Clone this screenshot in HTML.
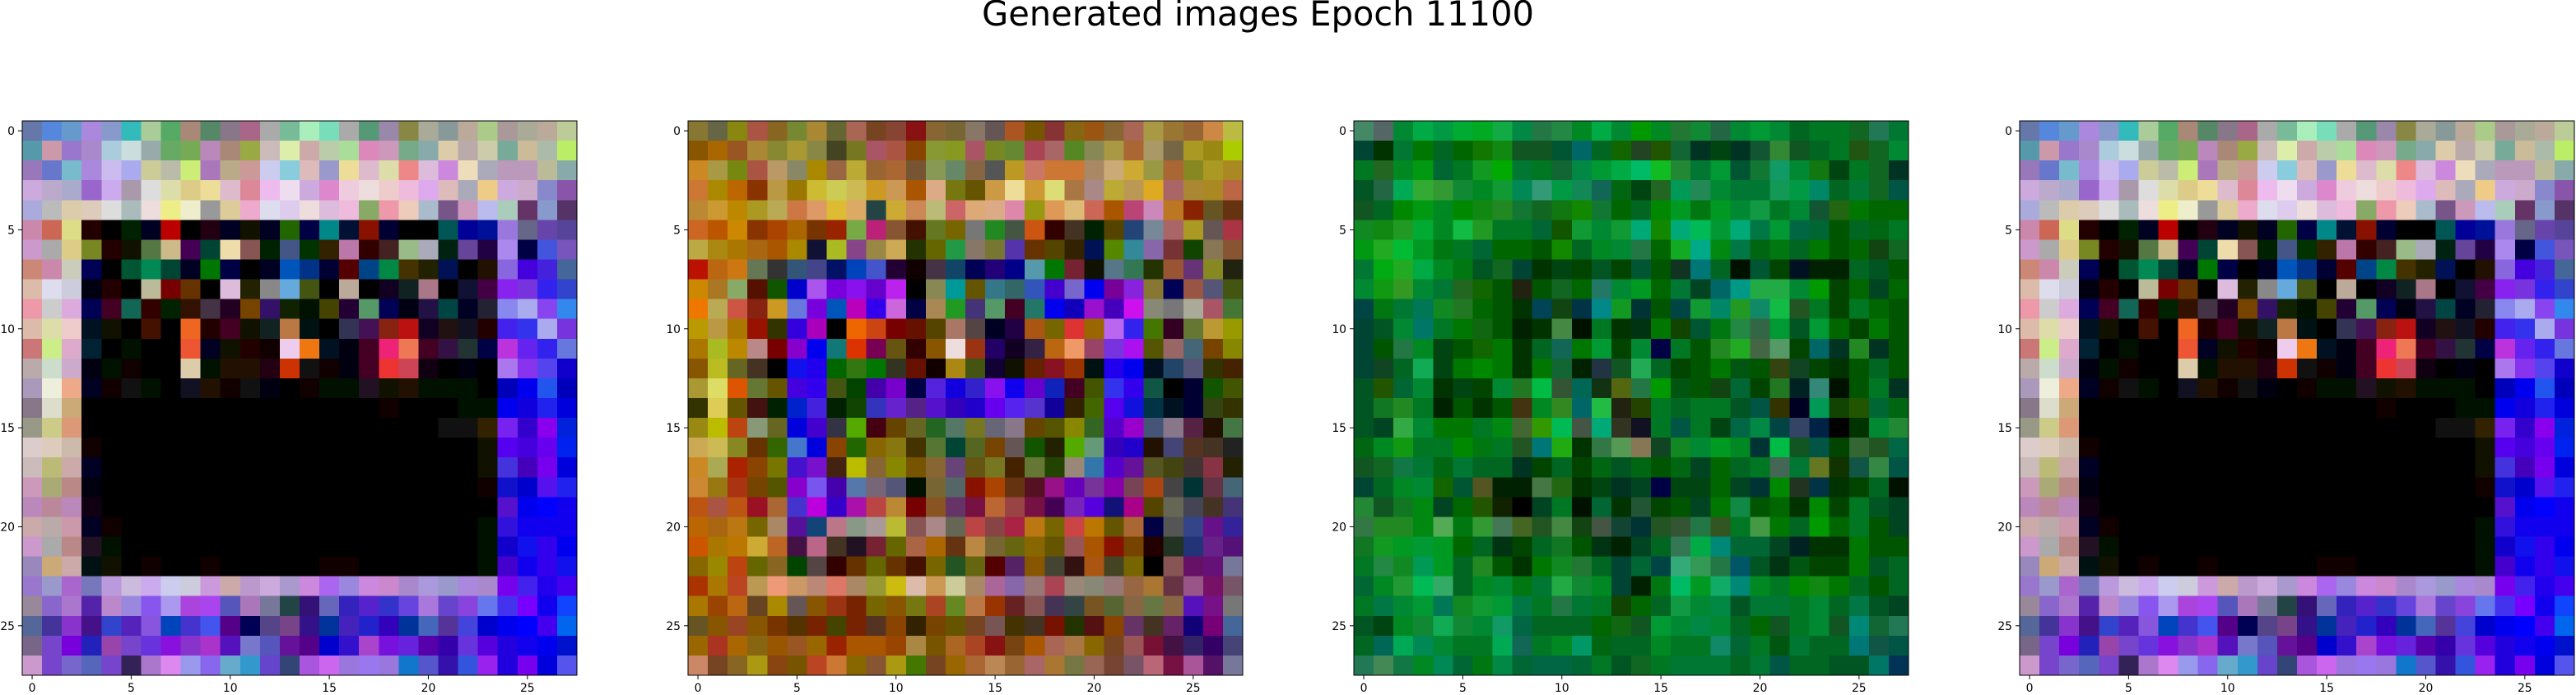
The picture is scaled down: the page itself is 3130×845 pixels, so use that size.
<!DOCTYPE html>
<html><head><meta charset="utf-8"><title>Generated images Epoch 11100</title>
<style>html,body{margin:0;padding:0;background:#fff;}svg{display:block;}</style></head>
<body>
<svg id="fig" xmlns="http://www.w3.org/2000/svg" width="3130" height="845" viewBox="0 0 3130 845">
<rect x="0" y="0" width="3130" height="845" fill="#fff"/>
<text x="1193" y="31" font-family="DejaVu Sans, Liberation Sans, sans-serif" font-size="41.7" textLength="671" lengthAdjust="spacingAndGlyphs" fill="#000">Generated images Epoch 11100</text>
</svg>
<script>
const img1 = [
"67a 58d 69c a8d 89c 3bb ac9 5a6 a87 586 878 a68 aaa 7b9 aeb 7db aaa 597 98a 884 aa9 899 ba9 ac8 a99 aa9 ba9 bc9",
"59a c9a 97c a8c acd cdd 9aa 6a6 7a5 b8b a87 9a4 cbb dea caa bca ad9 d8b c9b 7a8 8aa dca baa cca 7a9 cb9 aba be6",
"97b 67c 7bc a8d cbe aae cc9 bba ce7 a7b ba8 c99 cce 8cd dbb 99c ed9 dbc dda e88 dbd c8d edb aab b9b b9b bb9 8aa",
"cad bac aac 96c cae a9a ddd dda dc8 ed9 dbc d89 ebe ede cad d8c ecd edd ecc ebd dae dbb aab ec8 cad cac 88c 85a",
"aad bbb dca dcb ddd abb edd ee8 eec 999 dc9 eac dde dce edd dbd ebd 8a6 e9a ecb abc 758 c9b bbe acb 636 89c 536",
"c8a c65 dd8 200 000 020 002 b00 000 201 002 110 002 260 004 088 013 810 003 000 000 055 009 019 97d 668 64a 549",
"c9c aaa dc8 782 200 110 574 cb8 405 043 eda 855 020 458 030 320 b7a 300 422 9b8 aab 021 649 204 a8e 004 45d 75b",
"c87 c8a ccb 005 000 053 085 043 002 070 004 000 002 05b 038 003 500 048 084 430 220 015 000 210 86d 40d 42d 469",
"dba dde ccd 001 200 000 bb9 700 630 000 dbd 220 888 6ad 451 000 ba9 000 102 122 a78 000 113 404 82e 73d 32e 34c",
"e9a ccc dad 005 402 165 300 020 310 434 202 740 316 120 010 440 203 596 005 001 214 044 002 223 88e aae 84e 38e",
"dba dda ecc 012 110 000 410 000 e62 200 402 110 122 b74 011 000 335 415 821 b11 102 211 112 200 42e 33e aae 73d",
"c77 ce8 dac 023 000 010 000 000 e53 002 110 200 100 ece e71 012 001 402 e27 e75 402 314 233 004 b3d 62e 32e 67d",
"baa cdc cac 001 010 100 000 000 dca 010 210 210 201 c30 111 100 001 402 e33 c45 101 000 001 000 a7e 83e 54e 10c",
"a9b eed ea8 002 100 111 010 000 112 210 100 111 001 000 100 010 010 212 110 210 010 010 010 000 00b 00e 25e 00b",
"878 ddc ca7 000 000 000 000 000 000 000 000 000 000 000 000 000 000 000 100 000 000 000 010 010 00e 10d 22e 00d",
"998 cc8 d97 000 000 000 000 000 000 000 000 000 000 000 000 000 000 000 000 000 000 111 111 320 72e 30c 80e 02d",
"dcc dcb cba 100 000 000 000 000 000 000 000 000 000 000 000 000 000 000 000 000 000 000 000 110 50e 40d 60e 02e",
"cbb bb7 caa 002 000 000 000 000 000 000 000 000 000 000 000 000 000 000 000 000 000 000 000 110 43d 40b 70e 00d",
"c9b aa7 b88 001 000 000 000 000 000 000 000 000 000 000 000 000 000 000 000 000 000 000 000 100 11c 00c 51e 22e",
"b8b b89 b8b 101 000 000 000 000 000 000 000 000 000 000 000 000 000 000 000 000 000 000 000 000 51c 00e 00f 10e",
"caa baa c9a 002 100 000 000 000 000 000 000 000 000 000 000 000 000 000 000 000 000 000 000 010 31d 10e 10e 10e",
"c9c aaa b88 212 010 000 000 000 000 000 000 000 000 000 000 000 000 000 000 000 000 000 000 010 10c 11e 30e 00e",
"98b ca7 caa 011 110 000 100 000 000 100 000 000 000 000 000 100 100 000 000 000 000 000 000 010 40c 10e 30e 11e",
"97c 99c a6c 77b b9d cbd cae cce ccd c9d caa b9c cad a9c c8d a6e 98d c8d c8c a8c a9d 99c a8d a8c 70e 42e 20e 40e",
"989 86c a7c 52a b8c 98d 85e a9e a4d a4e 55b a7b 779 244 317 66b 32b 52c 33c 64d a7d 64c 84d 67e 43e 70f 10e 14f",
"569 439 83c 418 34c 52b 85d 04b 43c 45e 508 005 548 748 318 039 42b 22c 30b 039 46b 539 44d 00c 00e 00f 40e 06e",
"768 74c 70d 22b 94a 74c 63d 81d 83c a3c 51b 77c 55b 619 508 00c 31c a4c 71d 62d 50a 30a 63d 50d 20d 10e 00e 01c",
"c9c 74c 76c 56b 74c 325 a7c d8e 99e 86e 6ac 39c 64c 347 a5d c6e 97d 97e 97d 17c 55c 31a 35d 92e 20d 70e 00d 55e"
];
const img2 = [
"873 664 881 a54 862 783 a83 663 a65 742 843 811 863 763 876 655 a52 750 833 861 951 863 a65 a94 973 963 c84 bb4",
"850 a60 952 a83 883 a93 884 442 772 a56 a54 840 893 892 a56 782 683 a45 a66 582 885 a94 a63 a96 764 a92 981 ac0",
"c82 a94 781 a54 b96 886 a80 964 ba3 963 a63 753 895 686 864 555 b92 c76 c73 c73 a86 ca7 ca3 994 a63 882 a92 a82",
"c73 a80 b60 830 b94 970 cb3 cc5 cb5 c92 c95 a50 da8 771 650 c94 ed9 c93 dd7 a74 a88 ba3 b95 da2 a66 a83 a82 b64",
"b83 c93 b80 a92 ba5 c74 d96 db3 da6 244 ca3 c85 bb7 c66 da7 da8 d8a 991 d95 db7 c65 a50 b47 c8b b72 820 652 631",
"c62 b50 c80 830 a40 a60 730 920 7a4 b27 853 410 672 760 777 282 454 c51 300 432 020 540 247 789 a66 a92 655 a34",
"ba4 a81 a70 a61 a50 a80 113 ab2 848 984 ca5 230 660 294 876 773 53a 630 540 320 015 580 389 86a 733 140 875 853",
"b10 b61 c71 675 333 357 448 016 04b 45c 203 100 434 146 005 207 008 59a 070 723 110 578 375 230 953 637 882 221",
"c80 a72 8a6 510 150 00c a5e 70d 81e 60c b2e 000 885 099 650 378 366 35b 40c 76c 00e 709 82d 873 005 954 557 451",
"e70 ba5 c54 821 c92 67d 70d 05b b0b 30e c6d 004 a85 292 437 596 402 276 00e 10b 91c 40b c1e 887 777 aa9 a56 473",
"b90 b94 a70 910 330 30d a0b 000 e60 c41 700 610 540 a76 544 002 204 a51 760 d33 960 b6e 32e 470 302 673 b93 990",
"a70 ab2 b80 b88 700 80c 00e 177 d30 705 651 300 850 edd 931 206 102 324 b61 e96 946 73d a1e 550 966 467 740 880",
"850 bb2 662 432 000 11e 20e 060 371 070 332 610 100 a81 451 103 110 620 812 930 011 20e 00e 012 246 557 330 420",
"a93 dd6 d50 673 650 40d 30e 451 040 40a 70c 004 52d 10d 32c 81e 10e 60c 12b 402 450 33e 30e 154 000 003 150 450",
"330 dc5 650 411 020 02c 42d 020 140 33b 62c 528 51c 30b 20c 60e 52e 53c 109 320 460 50e 11d 034 012 003 341 330",
"981 bb0 b41 897 662 00d 40c 334 5a0 401 640 662 262 576 772 667 878 640 550 880 362 50c 90c 457 878 524 210 474",
"ca5 cb5 882 630 360 47c 00d 840 260 860 871 430 573 043 562 740 655 150 220 5a0 697 30b 20c 210 447 532 432 222",
"c82 aa5 a20 840 770 41c 71c 421 bb0 863 880 750 863 647 651 772 420 673 240 987 37a 50c 619 552 441 433 834 220",
"c83 971 a31 740 550 80c 75e 40a 57a 767 557 010 763 566 810 a40 631 512 918 60b 739 80a 745 a41 444 033 634 467",
"b51 a54 b51 912 a63 43c b0d 30c a1a b44 b83 700 852 636 714 b63 944 714 405 72b 50d 117 a08 540 665 445 432 437",
"b60 a61 b71 760 a86 519 147 b78 898 a99 bb3 855 a88 665 b44 844 a24 b71 760 c44 b70 650 a63 004 555 348 618 329",
"c50 a70 b70 ca3 b62 414 b68 432 212 723 660 a64 a60 631 b84 763 661 860 650 955 a50 810 740 200 232 237 628 517",
"860 980 b41 660 862 040 544 300 630 660 630 410 760 252 661 500 526 850 443 311 a51 442 760 000 855 616 617 779",
"a30 a70 b42 b95 e97 c96 b87 d76 a86 993 cb1 dba c95 cc9 a86 a69 86a 977 a45 987 887 977 964 a73 634 958 716 756",
"a70 940 b61 642 a80 655 850 931 720 760 850 771 a42 682 b74 930 622 855 435 344 752 563 864 674 864 51b 718 777",
"652 850 942 850 730 530 720 440 720 532 840 320 740 650 742 755 430 432 710 230 511 840 636 432 626 107 707 469",
"960 a32 a60 861 950 952 960 920 a50 a50 940 a84 750 a62 a42 811 741 a50 a65 a74 860 742 955 713 414 326 306 447",
"c86 742 862 a91 841 750 b42 c73 860 853 a91 470 742 960 a63 b85 963 a66 a73 774 965 743 756 b67 714 a59 516 779"
];
const img3 = [
"486 566 083 0a4 094 0a3 0a2 1a4 084 274 284 082 0a4 083 090 082 273 183 264 083 093 083 062 072 072 162 275 073",
"043 030 073 070 062 060 170 181 152 152 053 066 062 160 242 250 163 032 041 032 153 383 152 062 072 251 162 083",
"072 262 082 091 063 072 192 0a0 073 072 163 084 093 0a4 0b6 1b2 283 073 093 053 173 196 083 171 041 072 162 032",
"052 264 0a5 3a3 393 183 082 193 085 397 094 185 165 061 041 262 095 285 083 073 073 195 094 086 062 073 162 054",
"152 062 080 091 082 080 181 282 173 162 171 180 173 060 062 080 092 071 092 083 194 072 083 153 261 070 060 060",
"182 181 292 0a3 082 1b4 292 072 072 063 150 193 083 193 0a7 180 0a7 0b5 093 0a7 074 093 064 063 050 062 061 072",
"091 2a2 0b3 092 071 072 063 060 060 050 180 062 082 083 274 060 1a2 0a8 081 074 061 071 062 070 050 060 141 162",
"073 0a1 2a2 0a4 082 071 052 162 043 030 041 040 052 040 053 050 132 077 062 010 053 040 012 020 020 062 052 050",
"083 191 392 083 073 262 160 050 221 050 162 060 276 083 092 060 073 042 066 098 2a4 2a4 083 090 040 060 042 060",
"044 071 073 075 182 272 060 050 030 045 141 034 088 192 033 050 044 193 086 292 186 1b4 252 072 040 072 060 050",
"043 052 083 076 072 070 161 050 020 030 484 010 072 030 031 070 140 053 071 284 364 093 052 093 060 040 070 050",
"043 050 274 082 041 050 160 070 030 062 165 070 093 040 083 004 072 050 282 2a2 464 596 040 066 032 282 032 050",
"043 142 062 1a5 041 070 080 070 030 070 163 020 234 152 2a5 062 040 050 070 051 050 341 142 040 030 050 062 050",
"052 250 063 083 030 041 040 083 272 0b4 353 065 131 561 274 090 051 050 141 063 040 272 022 387 010 050 072 032",
"052 172 282 072 020 050 030 050 431 082 382 066 2b4 221 240 072 062 072 072 052 054 330 002 095 140 250 063 061",
"052 042 3a4 083 070 070 072 081 463 390 0b5 454 0a7 332 112 072 054 072 041 064 084 044 346 024 000 030 083 283",
"061 082 191 072 072 080 071 072 252 077 2a1 030 374 595 875 142 182 083 092 082 033 0b4 152 054 040 363 252 064",
"152 162 174 073 061 073 062 062 032 040 062 040 061 052 061 050 061 042 060 062 072 465 073 672 130 154 384 054",
"043 062 082 083 160 053 552 020 020 474 261 030 041 032 042 004 041 041 060 042 033 080 232 034 030 040 062 010",
"283 152 172 081 042 060 250 120 000 042 072 010 063 030 253 040 050 042 070 184 050 060 030 080 040 072 052 042",
"374 282 282 081 5a5 071 393 475 462 252 484 141 454 143 033 252 353 274 352 072 494 070 062 090 060 072 050 042",
"172 192 092 093 092 060 062 031 040 062 172 050 031 020 042 062 375 0a4 087 063 063 042 022 030 030 070 050 050",
"072 284 182 095 092 062 282 050 030 070 182 273 062 043 063 044 3a7 395 274 056 052 031 051 040 040 070 052 062",
"063 082 293 0b5 3a6 062 082 083 071 073 2a4 183 082 043 020 071 0b6 092 1a6 087 082 072 080 181 070 062 050 062",
"072 074 083 093 075 182 193 093 074 072 274 073 072 140 060 062 194 083 084 052 073 073 072 083 062 074 052 042",
"052 041 082 183 1a5 183 083 196 064 062 062 062 060 161 152 093 083 084 083 062 060 152 072 083 152 087 163 275",
"062 065 0a5 085 083 072 072 0a5 165 072 082 096 061 062 062 082 072 072 186 063 072 051 073 062 062 077 154 054",
"275 485 174 082 085 063 071 084 063 064 064 063 072 052 162 072 073 073 073 062 073 054 062 062 052 052 076 035"
];
const img4 = img1.slice();
const xTicks = [0, 5, 10, 15, 20, 25];
const yTicks = [0, 5, 10, 15, 20, 25];
const panelNames = ["image-panel-1", "image-panel-2", "image-panel-3", "image-panel-4"];

const NS = "http://www.w3.org/2000/svg";
const svg = document.getElementById("fig");
const AX_LEFT = [27, 836, 1645, 2454];
const AX_TOP = 147, AX_SIZE = 674, N = 28;
const CELL = AX_SIZE / N;
function mk(tag, attrs, parent) {
  const e = document.createElementNS(NS, tag);
  for (const k in attrs) e.setAttribute(k, attrs[k]);
  parent.appendChild(e);
  return e;
}
function xScale(left, v) { return left + (v + 0.5) * CELL; }
function yScale(v) { return AX_TOP + (v + 0.5) * CELL; }

const images = [img1, img2, img3, img4];
images.forEach((img, p) => {
  const left = AX_LEFT[p];
  const g = mk("g", {}, svg);
  
  
  const cells = mk("g", {"shape-rendering": "crispEdges"}, g);
  
  
  img.forEach((row, r) => {
    row.split(" ").forEach((c, col) => {
      const x0 = xScale(left, col - 0.5), y0 = yScale(r - 0.5);
      const rc = mk("rect", {x: x0.toFixed(2), y: y0.toFixed(2), width: (CELL + 0.6).toFixed(2), height: (CELL + 0.6).toFixed(2), fill: "#" + c}, cells);
      
      
    });
  });
  const frame = mk("rect", {x: left, y: AX_TOP, width: AX_SIZE, height: AX_SIZE, fill: "none", stroke: "#000", "stroke-width": 1}, g);
  
  
  xTicks.forEach(t => {
    const x = xScale(left, t);
    const tk = mk("line", {x1: x, x2: x, y1: AX_TOP + AX_SIZE, y2: AX_TOP + AX_SIZE + 5, stroke: "#000", "stroke-width": 1}, g);
    
    
    const tl = mk("text", {x: x, y: AX_TOP + AX_SIZE + 20, "text-anchor": "middle", "font-family": "DejaVu Sans, Liberation Sans, sans-serif", "font-size": "13.9", fill: "#000"}, g);
    tl.textContent = String(t);
    
    
  });
  yTicks.forEach(t => {
    const y = yScale(t);
    const tk = mk("line", {x1: left - 5, x2: left, y1: y, y2: y, stroke: "#000", "stroke-width": 1}, g);
    
    
    const tl = mk("text", {x: left - 9, y: y + 5, "text-anchor": "end", "font-family": "DejaVu Sans, Liberation Sans, sans-serif", "font-size": "13.9", fill: "#000"}, g);
    tl.textContent = String(t);
    
    
  });
});
</script>
</body></html>
